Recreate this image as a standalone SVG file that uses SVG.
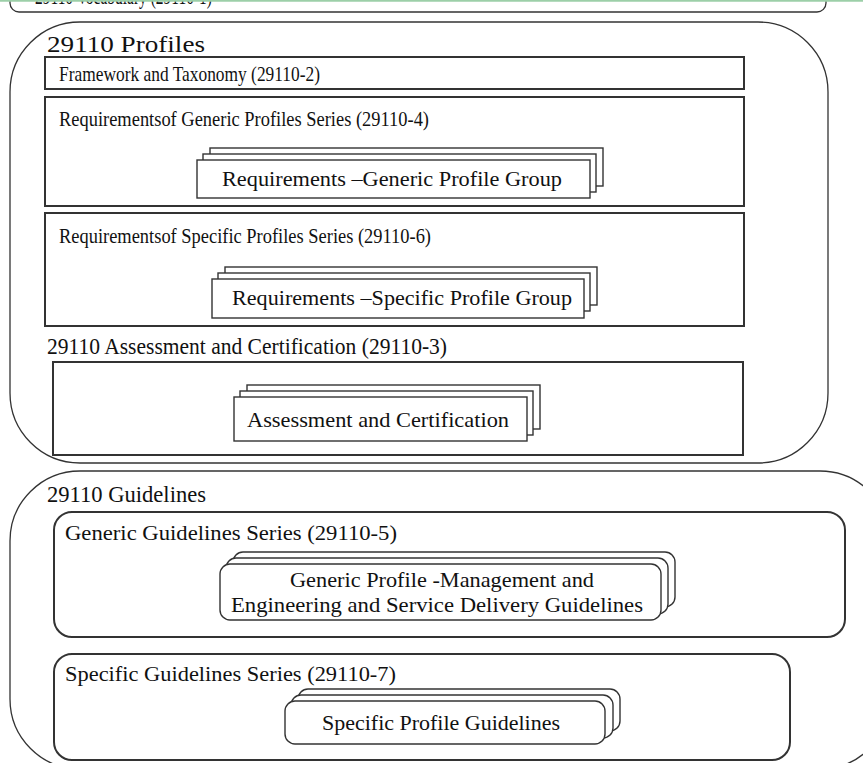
<svg xmlns="http://www.w3.org/2000/svg" width="863" height="763" viewBox="0 0 863 763">
<style>
text{font-family:"Liberation Serif","DejaVu Serif",serif;fill:#111;}
.big{font-size:24px;}
.mid{font-size:22px;}
.box{fill:#fff;stroke:#333;stroke-width:2;}
.outer{fill:none;stroke:#333;stroke-width:1.3;}
.stk{fill:#fff;stroke:#333;stroke-width:1.4;}
</style>
<rect width="863" height="763" fill="#fff"/>
<g id="vocabulary">
<rect x="10" y="-30" width="816" height="42" rx="9" class="outer" stroke-width="2"/>
<text class="big" x="35" y="4" textLength="177" lengthAdjust="spacingAndGlyphs">29110 Vocabulary (29110-1)</text>
<line x1="0" y1="0.8" x2="863" y2="0.8" stroke="#9ccfa8" stroke-width="2"/>
</g>
<g id="profiles">
<rect x="10" y="22" width="818" height="441" rx="70" ry="70" class="outer"/>
<text class="big" x="47" y="52" textLength="158" lengthAdjust="spacingAndGlyphs">29110 Profiles</text>
</g>
<g id="framework">
<rect x="45" y="57" width="699" height="32" class="box"/>
<text class="mid" x="59" y="81" textLength="261" lengthAdjust="spacingAndGlyphs">Framework and Taxonomy (29110-2)</text>
</g>
<g id="generic-req">
<rect x="45" y="97" width="699" height="109" class="box"/>
<text class="mid" x="59" y="126" textLength="370" lengthAdjust="spacingAndGlyphs">Requirementsof Generic Profiles Series (29110-4)</text>
<g id="generic-req-group">
<rect x="210" y="148" width="393" height="38" class="stk"/>
<rect x="203" y="154" width="393" height="38" class="stk"/>
<rect x="197" y="160" width="393" height="38" class="stk"/>
<text class="mid" x="222" y="186" textLength="340" lengthAdjust="spacingAndGlyphs">Requirements –Generic Profile Group</text>
</g>
</g>
<g id="specific-req">
<rect x="45" y="213" width="699" height="113" class="box"/>
<text class="mid" x="59" y="243" textLength="372" lengthAdjust="spacingAndGlyphs">Requirementsof Specific Profiles Series (29110-6)</text>
<g id="specific-req-group">
<rect x="225" y="267" width="372" height="38" class="stk"/>
<rect x="218" y="273" width="372" height="38" class="stk"/>
<rect x="212" y="279" width="372" height="39" class="stk"/>
<text class="mid" x="232" y="305" textLength="340" lengthAdjust="spacingAndGlyphs">Requirements –Specific Profile Group</text>
</g>
</g>
<g id="assessment">
<text class="big" x="47" y="354" textLength="400" lengthAdjust="spacingAndGlyphs">29110 Assessment and Certification (29110-3)</text>
<rect x="53" y="362" width="690" height="93" class="box"/>
<g id="assessment-group">
<rect x="247" y="385" width="293" height="44" class="stk"/>
<rect x="240" y="391" width="293" height="44" class="stk"/>
<rect x="234" y="397" width="293" height="44" class="stk"/>
<text class="mid" x="247" y="427" textLength="262" lengthAdjust="spacingAndGlyphs">Assessment and Certification</text>
</g>
</g>
<g id="guidelines">
<rect x="10" y="471" width="880" height="298" rx="70" ry="70" class="outer"/>
<text class="big" x="47" y="502" textLength="159" lengthAdjust="spacingAndGlyphs">29110 Guidelines</text>
</g>
<g id="generic-guidelines">
<rect x="54" y="512" width="791" height="125" rx="18" class="box"/>
<text class="mid" x="65" y="540" textLength="332" lengthAdjust="spacingAndGlyphs">Generic Guidelines Series (29110-5)</text>
<g id="generic-guidelines-group">
<rect x="233" y="552" width="442" height="55" rx="10" class="stk"/>
<rect x="226" y="558" width="442" height="56" rx="10" class="stk"/>
<rect x="220" y="564" width="441" height="56" rx="10" class="stk"/>
<text class="mid" x="290" y="587" textLength="304" lengthAdjust="spacingAndGlyphs">Generic Profile -Management and</text>
<text class="mid" x="231" y="612" textLength="412" lengthAdjust="spacingAndGlyphs">Engineering and Service Delivery Guidelines</text>
</g>
</g>
<g id="specific-guidelines">
<rect x="54" y="654" width="736" height="106" rx="18" class="box"/>
<text class="mid" x="65" y="681" textLength="331" lengthAdjust="spacingAndGlyphs">Specific Guidelines Series (29110-7)</text>
<g id="specific-guidelines-group">
<rect x="298" y="689" width="322" height="42" rx="10" class="stk"/>
<rect x="291" y="695" width="322" height="43" rx="10" class="stk"/>
<rect x="285" y="701" width="320" height="43" rx="10" class="stk"/>
<text class="mid" x="322" y="730" textLength="238" lengthAdjust="spacingAndGlyphs">Specific Profile Guidelines</text>
</g>
</g>
<g id="connectors"/>
</svg>
